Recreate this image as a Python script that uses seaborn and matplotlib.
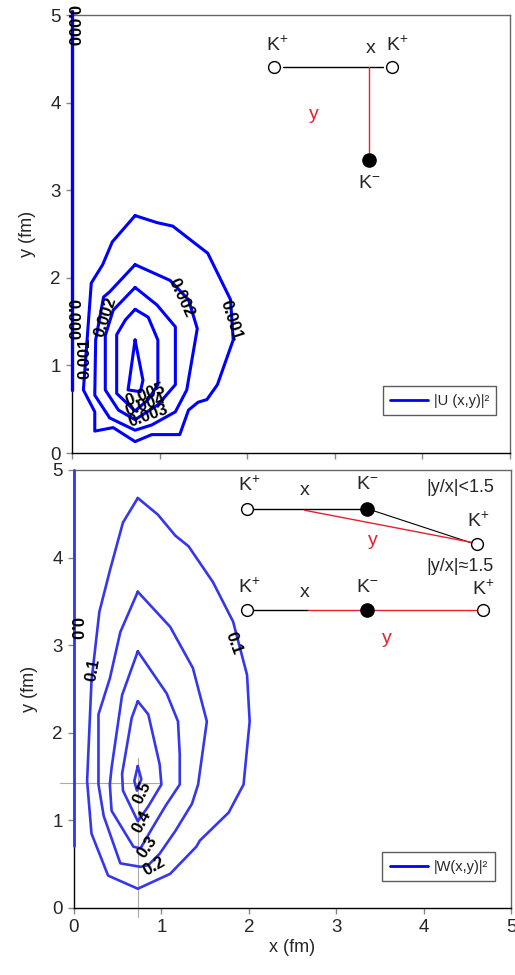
import matplotlib
matplotlib.use("Agg")
import matplotlib.pyplot as plt
import seaborn as sns
from matplotlib.lines import Line2D

# ---------------- data ----------------
# top panel |U(x,y)|^2 contour polylines (x, y in fm)
u_levels = ["0.001", "0.002", "0.003", "0.004", "0.005"]
u1_x = [0.72, 0.97, 1.15, 1.55, 1.81, 1.84, 1.66, 1.54, 1.44, 1.33, 1.23, 0.91, 0.72, 0.47, 0.26, 0.26, 0.13, 0.22, 0.35, 0.46]
u1_y = [2.71, 2.63, 2.59, 2.28, 1.75, 1.29, 0.78, 0.61, 0.58, 0.49, 0.21, 0.21, 0.13, 0.29, 0.25, 0.47, 0.72, 1.94, 2.15, 2.41]
u2_x = [0.72, 1.12, 1.33, 1.43, 1.31, 1.18, 0.91, 0.72, 0.43, 0.26, 0.27, 0.36, 0.43]
u2_y = [2.15, 1.97, 1.75, 1.42, 0.72, 0.47, 0.32, 0.26, 0.40, 0.66, 1.29, 1.78, 1.84]
u3_x = [0.72, 0.97, 1.18, 1.18, 0.98, 0.72, 0.53, 0.38, 0.38, 0.47]
u3_y = [1.89, 1.69, 1.44, 0.78, 0.55, 0.38, 0.49, 0.72, 1.34, 1.63]
u4_x = [0.72, 0.87, 0.98, 0.98, 0.87, 0.72, 0.51, 0.51, 0.61]
u4_y = [1.64, 1.55, 1.29, 0.78, 0.61, 0.48, 0.68, 1.35, 1.52]
u5_x = [0.72, 0.81, 0.78, 0.64, 0.66]
u5_y = [1.29, 0.83, 0.70, 0.72, 0.86]
u0_x = [0.0, 0.0]
u0_y = [0.72, 5.05]

# bottom panel |W(x,y)|^2 contour polylines
w_levels = ["0.1", "0.2", "0.3", "0.4", "0.5"]
w1_x = [0.73, 0.96, 1.16, 1.31, 1.59, 1.82, 1.98, 2.01, 1.94, 1.77, 1.44, 1.40, 1.10, 0.73, 0.39, 0.20, 0.15, 0.20, 0.29, 0.41, 0.56]
w1_y = [4.68, 4.49, 4.25, 4.13, 3.72, 3.27, 2.66, 2.13, 1.41, 1.09, 0.77, 0.70, 0.39, 0.22, 0.37, 0.85, 1.45, 2.59, 3.38, 3.85, 4.40]
w2_x = [0.73, 1.10, 1.36, 1.52, 1.42, 1.35, 1.16, 0.98, 0.85, 0.76, 0.53, 0.34, 0.28, 0.28, 0.41, 0.53]
w2_y = [3.61, 3.21, 2.74, 2.13, 1.41, 1.19, 0.88, 0.62, 0.49, 0.47, 0.51, 1.05, 1.41, 2.21, 2.62, 3.15]
w3_x = [0.73, 1.06, 1.19, 1.21, 1.21, 1.05, 0.90, 0.76, 0.68, 0.43, 0.41, 0.43, 0.55]
w3_y = [2.93, 2.45, 2.13, 1.75, 1.41, 1.17, 0.92, 0.68, 0.70, 1.11, 1.41, 1.60, 2.43]
w4_x = [0.73, 0.85, 0.98, 1.00, 0.85, 0.73, 0.56, 0.55, 0.66]
w4_y = [2.36, 2.21, 1.64, 1.41, 1.16, 0.99, 1.34, 1.53, 2.17]
w5_x = [0.73, 0.77, 0.72, 0.69]
w5_y = [1.62, 1.47, 1.34, 1.45]
w0_x = [0.0, 0.0]
w0_y = [0.71, 5.0]

# guide lines (bottom panel)
guide_h_x = [-0.16, 1.0]
guide_h_y = [1.43, 1.43]
guide_v_x = [0.73, 0.73]
guide_v_y = [1.71, -0.10]

ticks = [0, 1, 2, 3, 4, 5]
tick_labels = ["0", "1", "2", "3", "4", "5"]

# ---------------- style ----------------
sns.set_theme(style="white")
plt.rcParams['font.family'] = ['Liberation Sans', 'DejaVu Sans']
plt.rcParams['mathtext.fontset'] = 'custom'
plt.rcParams['mathtext.rm'] = 'Liberation Sans'
plt.rcParams['mathtext.it'] = 'Liberation Sans'
plt.rcParams['mathtext.bf'] = 'Liberation Sans:bold'

fig = plt.figure(figsize=(5.15, 9.75), dpi=100)
ax1 = fig.add_axes([72/515, 1-453/975, (510-72)/515, (453-15)/975])
ax2 = fig.add_axes([74/515, 1-908/975, (511-74)/515, (908-470)/975])


def closed(xs, ys):
    return list(xs) + [xs[0]], list(ys) + [ys[0]]


def draw(ax, xs, ys, color, lw, close=True):
    if close:
        xs, ys = closed(xs, ys)
    sns.lineplot(x=xs, y=ys, sort=False, estimator=None, ax=ax,
                 color=color, linewidth=lw)


def style_axes(ax, show_xlabels):
    ax.set_xlim(0, 5)
    ax.set_ylim(0, 5)
    ax.set_xticks(ticks)
    ax.set_yticks(ticks)
    ax.set_yticklabels(tick_labels)
    if show_xlabels:
        ax.set_xticklabels(tick_labels)
    else:
        ax.set_xticklabels([])
    ax.tick_params(axis='both', direction='out', length=4, width=1,
                   color='#888888', labelsize=13.5, pad=4, left=True, bottom=True)
    for s in ['left', 'bottom']:
        ax.spines[s].set_color('black')
        ax.spines[s].set_linewidth(1.0)
    for s in ['top', 'right']:
        ax.spines[s].set_color('#666666')
        ax.spines[s].set_linewidth(1.0)
    ax.set_ylabel("y (fm)", fontsize=13, labelpad=10)


# ---------------- top panel ----------------
blue1 = '#0000ff'
for xs, ys in [(u1_x, u1_y), (u2_x, u2_y), (u3_x, u3_y), (u4_x, u4_y), (u5_x, u5_y)]:
    draw(ax1, xs, ys, blue1, 2.2)
ax1.plot(u0_x, u0_y, color=blue1, lw=2.4, clip_on=False, zorder=4)
style_axes(ax1, False)

lab_kw = dict(fontsize=12, fontweight='bold', color='black', ha='center', va='center', zorder=5)
ax1.text(0.0, 4.88, "0.000", rotation=-90, **lab_kw)
ax1.text(0.0, 1.52, "0.000", rotation=-90, **lab_kw)
ax1.text(0.15, 1.08, u_levels[0], rotation=90, **lab_kw)
ax1.text(0.38, 1.55, u_levels[1], rotation=72, **lab_kw)
ax1.text(1.25, 1.77, u_levels[1], rotation=-65, **lab_kw)
ax1.text(1.82, 1.52, u_levels[0], rotation=-72, **lab_kw)
ax1.text(0.84, 0.67, u_levels[4], rotation=20, **lab_kw)
ax1.text(0.84, 0.55, u_levels[3], rotation=20, **lab_kw)
ax1.text(0.87, 0.42, u_levels[2], rotation=20, **lab_kw)

# top diagram
ax1.plot([2.41, 3.55], [4.41, 4.41], color='black', lw=1)
ax1.plot([3.39, 3.39], [4.41, 3.44], color='#e8202a', lw=1)
ax1.plot([2.31, 3.65], [4.41, 4.41], 'o', ms=8.5, mfc='white', mec='black', mew=1)
ax1.plot([3.39], [3.35], 'o', ms=9.5, mfc='black', mec='black')
ax1.text(2.34, 4.66, r"K$^{+}$", fontsize=14, ha='center', va='center')
ax1.text(3.71, 4.66, r"K$^{+}$", fontsize=14, ha='center', va='center')
ax1.text(3.41, 4.62, "x", fontsize=14, ha='center', va='center')
ax1.text(2.76, 3.86, "y", fontsize=14, ha='center', va='center', color='#e8202a')
ax1.text(3.39, 3.08, r"K$^{-}$", fontsize=14, ha='center', va='center')

leg1 = ax1.legend(handles=[Line2D([0], [0], color=blue1, lw=2)],
                  labels=["|U (x,y)|²"], loc='lower right',
                  bbox_to_anchor=(0.985, 0.07), fontsize=10.5, frameon=True,
                  fancybox=False, handlelength=2.6, borderpad=0.5, handletextpad=0.4)
leg1.get_frame().set_edgecolor('#333333')
leg1.get_frame().set_linewidth(1)

# ---------------- bottom panel ----------------
blue2 = '#3636ee'
for xs, ys in [(w1_x, w1_y), (w2_x, w2_y), (w3_x, w3_y), (w4_x, w4_y), (w5_x, w5_y)]:
    draw(ax2, xs, ys, blue2, 1.9)
ax2.plot(w0_x, w0_y, color=blue2, lw=2.0, clip_on=False, zorder=4)
ax2.plot(guide_h_x, guide_h_y, color='#aaaaaa', lw=0.8, clip_on=False, zorder=1)
ax2.plot(guide_v_x, guide_v_y, color='#aaaaaa', lw=0.8, clip_on=False, zorder=1)
style_axes(ax2, True)
ax2.set_xlabel("x (fm)", fontsize=13, labelpad=2)

ax2.text(0.01, 3.19, "0.0", rotation=-90, **lab_kw)
ax2.text(0.22, 2.72, w_levels[0], rotation=80, **lab_kw)
ax2.text(1.82, 3.02, w_levels[0], rotation=-70, **lab_kw)
ax2.text(0.78, 1.32, w_levels[4], rotation=65, **lab_kw)
ax2.text(0.78, 0.98, w_levels[3], rotation=62, **lab_kw)
ax2.text(0.84, 0.70, w_levels[2], rotation=55, **lab_kw)
ax2.text(0.92, 0.47, w_levels[1], rotation=30, **lab_kw)

red = '#e8202a'
# configuration 1
ax2.plot([2.05, 3.30], [4.56, 4.56], color='black', lw=1)
ax2.plot([3.35, 4.57], [4.56, 4.16], color='black', lw=0.8)
ax2.plot([2.64, 4.57], [4.54, 4.17], color=red, lw=1)
ax2.plot([1.98, 4.61], [4.56, 4.16], 'o', ms=8.5, mfc='white', mec='black', mew=1)
ax2.plot([3.35], [4.56], 'o', ms=9.5, mfc='black', mec='black')
ax2.text(2.01, 4.83, r"K$^{+}$", fontsize=14, ha='center', va='center')
ax2.text(2.64, 4.77, "x", fontsize=14, ha='center', va='center')
ax2.text(3.35, 4.83, r"K$^{-}$", fontsize=14, ha='center', va='center')
ax2.text(4.42, 4.80, "|y/x|<1.5", fontsize=13, ha='center', va='center')
ax2.text(4.62, 4.42, r"K$^{+}$", fontsize=14, ha='center', va='center')
ax2.text(3.42, 4.20, "y", fontsize=14, ha='center', va='center', color=red)
# configuration 2
ax2.plot([2.05, 2.68], [3.40, 3.40], color='black', lw=1)
ax2.plot([2.68, 4.60], [3.40, 3.40], color=red, lw=1)
ax2.plot([1.98, 4.68], [3.40, 3.40], 'o', ms=8.5, mfc='white', mec='black', mew=1)
ax2.plot([3.35], [3.40], 'o', ms=9.5, mfc='black', mec='black')
ax2.text(2.01, 3.66, r"K$^{+}$", fontsize=14, ha='center', va='center')
ax2.text(2.64, 3.60, "x", fontsize=14, ha='center', va='center')
ax2.text(3.35, 3.66, r"K$^{-}$", fontsize=14, ha='center', va='center')
ax2.text(4.68, 3.64, r"K$^{+}$", fontsize=14, ha='center', va='center')
ax2.text(4.42, 3.90, "|y/x|≈1.5", fontsize=13, ha='center', va='center')
ax2.text(3.58, 3.08, "y", fontsize=14, ha='center', va='center', color=red)

leg2 = ax2.legend(handles=[Line2D([0], [0], color='#0000ff', lw=2)],
                  labels=["|W(x,y)|²"], loc='lower right',
                  bbox_to_anchor=(0.98, 0.045), fontsize=10.5, frameon=True,
                  fancybox=False, handlelength=2.6, borderpad=0.5, handletextpad=0.4)
leg2.get_frame().set_edgecolor('#333333')
leg2.get_frame().set_linewidth(1)

fig.savefig("out.png", dpi=100)
